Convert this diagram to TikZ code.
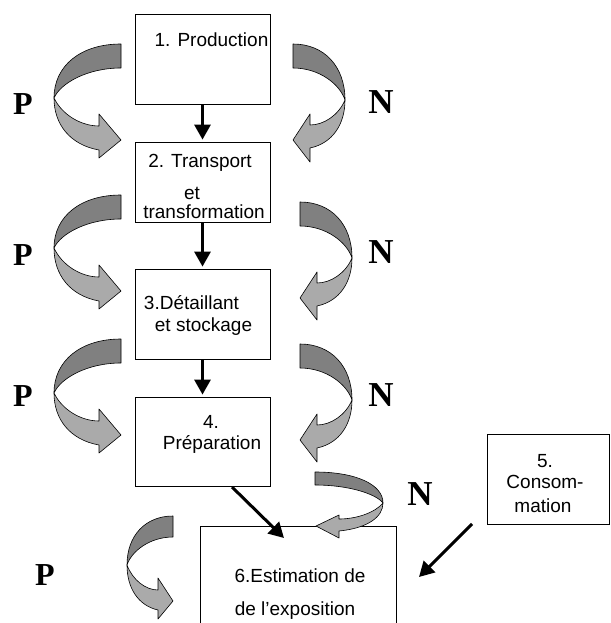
\documentclass[tikz,border=0pt]{standalone}
\usepackage{fontspec}
\setmainfont{Liberation Sans}
\newfontfamily\serifbold{Liberation Serif}
\usetikzlibrary{arrows.meta}
\definecolor{ribdark}{RGB}{128,128,128}
\definecolor{riblight}{RGB}{170,170,170}
% curved ribbon arrow: tailx, tailtop, tailbot, extremeX, crossY, headX, shaftTop, shaftBot, barbTop | barbBot, tipX, tipY
\newcommand\uturn[9]{\def\rTx{#1}\def\rTt{#2}\def\rTb{#3}\def\rEx{#4}\def\rCy{#5}\def\rHx{#6}\def\rSt{#7}\def\rSb{#8}\def\rBt{#9}\uturnfinish}
\newcommand\uturnfinish[3]{%
  \pgfmathsetmacro\oAx{\rTx+0.6*(\rEx-\rTx)}%
  \pgfmathsetmacro\oBy{\rTt+0.4*(\rCy-\rTt)}%
  \pgfmathsetmacro\iAx{\rEx+0.1*(\rTx-\rEx)}%
  \pgfmathsetmacro\iAy{\rCy-0.5*(\rCy-\rTb)}%
  \pgfmathsetmacro\iBx{\rEx+0.5*(\rTx-\rEx)}%
  \pgfmathsetmacro\uAx{\rEx+0.18*(\rHx-\rEx)}%
  \pgfmathsetmacro\uAy{\rCy+0.6*(\rSt-\rCy)}%
  \pgfmathsetmacro\uBx{\rEx+0.6*(\rHx-\rEx)}%
  \pgfmathsetmacro\lAx{\rEx+0.35*(\rHx-\rEx)}%
  \pgfmathsetmacro\lAy{\rSb-0.1*(\rSb-\rCy)}%
  \pgfmathsetmacro\lBy{\rCy+0.5*(\rSb-\rCy)}%
  \filldraw[ribbon,fill=ribdark] (\rTx,\rTt) .. controls (\oAx,\rTt) and (\rEx,\oBy) .. (\rEx,\rCy)
     .. controls (\iAx,\iAy) and (\iBx,\rTb) .. (\rTx,\rTb) -- cycle;
  \filldraw[ribbon,fill=riblight] (\rEx,\rCy) .. controls (\uAx,\uAy) and (\uBx,\rSt) .. (\rHx,\rSt)
     -- (\rHx,\rBt) -- (#2,#3) -- (\rHx,#1) -- (\rHx,\rSb)
     .. controls (\lAx,\lAy) and (\rEx,\lBy) .. (\rEx,\rCy) -- cycle;
}
\begin{document}
\begin{tikzpicture}[x=1pt,y=-1pt,
  box/.style={draw,line width=0.8pt,inner sep=0pt,minimum width=135pt},
  txt/.style={anchor=base,inner sep=0pt,font=\fontsize{19}{22}\selectfont},
  plab/.style={inner sep=0pt,font=\serifbold\bfseries\fontsize{32}{32}\selectfont},
  nlab/.style={inner sep=0pt,font=\serifbold\bfseries\fontsize{35}{35}\selectfont},
  ribbon/.style={draw=black,line width=0.6pt,line join=round},
  flow/.style={line width=3pt,-{Triangle[length=15pt,width=16pt]}}]
\useasboundingbox (0,0) rectangle (610,623);
\fill[white] (0,0) rectangle (610,623);

% boxes
\node[box,minimum height=90pt] (b1) at (202.5,59) {};
\node[box,minimum height=80pt] (b2) at (202.5,182) {};
\node[box,minimum height=90pt] (b3) at (202.5,314) {};
\node[box,minimum height=89pt] (b4) at (202.5,441.5) {};
\node[box,minimum width=122pt,minimum height=90pt] (b5) at (548,479) {};
\node[inner sep=0pt,minimum width=195pt,minimum height=96pt] (b6) at (298.5,575) {};
\draw[line width=0.8pt] (b6.south west) -- (b6.north west) -- (b6.north east) -- (b6.south east);

% texts
\node[txt] (t1) at (211.5,47) {1. Production};
\node[txt] (t2a) at (200,167) {2. Transport};
\node[txt] (t2b) at (192,199) {et};
\node[txt] (t2c) at (204,218) {transformation};
\node[txt] (t3a) at (191.5,309) {3.Détaillant};
\node[txt] (t3b) at (203.5,331) {et stockage};
\node[txt] (t4a) at (211,428) {4.};
\node[txt] (t4b) at (212,449) {Préparation};
\node[txt] (t5a) at (545,467) {5.};
\node[txt] (t5b) at (545,488) {Consom-};
\node[txt] (t5c) at (543,512) {mation};
\node[txt] (t6a) at (300,582) {6.Estimation de};
\node[txt] (t6b) at (295,615) {de l’exposition};

% flow arrows
\draw[flow] (b1.south) -- ([yshift=2pt]b2.north);
\draw[flow] (b2.south) -- ([yshift=2pt]b3.north);
\draw[flow] (b3.south) -- ([yshift=2pt]b4.north);
\coordinate (d4s) at (232,487);
\coordinate (d4e) at (284,538);
\draw[flow] (d4s) -- (d4e);
\coordinate (d5s) at (472,524);
\coordinate (d5e) at (419,577);
\draw[flow] (d5s) -- (d5e);

% ribbon arrows
\uturn{121}{44}{68}{54}{98}{99}{126}{150}{114}{158}{121}{140}
\uturn{121}{195}{219}{54}{248}{99}{277}{301}{265}{309}{121}{291}
\uturn{121}{339}{363}{54}{393}{99}{421}{445}{409}{453}{121}{435}
\uturn{173}{516}{537}{127}{565}{158}{590}{610}{578}{619}{173}{601}
\uturn{293}{44}{68}{345}{100}{310}{125}{148}{114}{162}{293}{140}
\uturn{300}{202}{226}{352}{258}{317}{283}{306}{272}{320}{300}{298}
\uturn{300}{344}{368}{352}{400}{317}{425}{448}{414}{462}{300}{440}
\uturn{315}{472}{485}{383}{503}{339}{519}{531}{515}{538}{316}{526}

% labels
\node[plab] (p1) at (23,104) {P};
\node[plab] (p2) at (23,255) {P};
\node[plab] (p3) at (23,396) {P};
\node[plab] (p4) at (45,575) {P};
\node[nlab] (n1) at (381,102) {N};
\node[nlab] (n2) at (381,252) {N};
\node[nlab] (n3) at (381,395) {N};
\node[nlab] (n4) at (420,494) {N};
\end{tikzpicture}
\end{document}
